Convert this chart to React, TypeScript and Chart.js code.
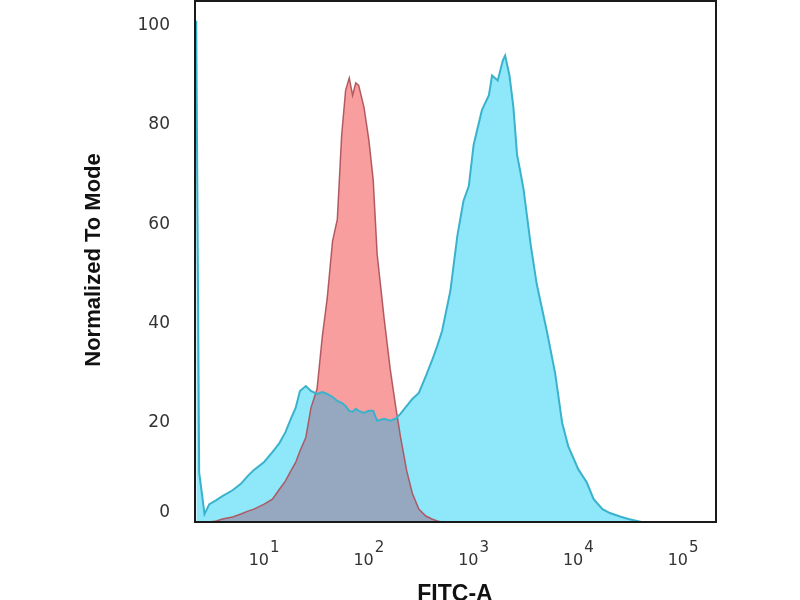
import { useEffect, useRef } from "react"
import { Chart, registerables } from "chart.js"

Chart.register(...registerables)

// FITC-A channel positions (shared by both histograms)
const fitcValues = [
    2.25, 2.4, 2.7, 3, 3.5, 4, 5, 6, 7, 8,
    10, 12, 14, 16, 18, 20, 22, 25, 28, 32,
    36, 40, 45, 50, 55, 60, 65, 70, 75, 80,
    90, 100, 110, 120, 140, 160, 180, 200, 230, 260,
    300, 350, 400, 450, 500, 600, 700, 800, 900, 1000,
    1200, 1400, 1500, 1700, 1900, 2000, 2200, 2400, 2600, 2800,
    3000, 3500, 4000, 5000, 6000, 7000, 8000, 10000, 12000, 14000,
    17000, 20000, 25000, 30000, 40000, 60000, 100000, 206000,
]

// stained sample (cyan)
const stainedCounts = [
    101, 10, 1.6, 3.6, 4.4, 5.2, 6.4, 7.7, 9.3, 10.5,
    12.1, 14.1, 15.9, 18.1, 20.8, 23, 26.4, 27.4, 26.4, 25.8,
    26.2, 25.8, 25.2, 24.4, 24, 23.4, 22.4, 22.2, 22.8, 22.4,
    22, 22.4, 22.4, 20.4, 20.8, 20.4, 20.8, 21.8, 23.4, 24.8,
    26, 29.4, 32.5, 35.5, 38.5, 46.6, 57.7, 64.7, 67.7, 76,
    83, 86, 90, 89, 93, 94, 90, 83.5, 74, 70.5,
    67, 56, 48, 38.5, 30, 20, 15.3, 10.6, 8, 4.6,
    2.6, 1.8, 1.1, 0.6, 0, 0, 0, 0,
]

// isotype control (red)
const isotypeCounts = [
    0, 0, 0, 0, 0.2, 0.6, 1, 1.6, 2.2, 2.6,
    3.6, 4.6, 6.6, 8.3, 10.3, 12, 14.3, 17, 23, 26.8,
    37.5, 45, 56.6, 61, 78, 87, 89.5, 86, 88.5, 88,
    83.5, 77, 69, 54, 41, 30.8, 23.4, 17.3, 10.3, 5.8,
    2.6, 1.2, 0.6, 0.2, 0, 0, 0, 0, 0, 0,
    0, 0, 0, 0, 0, 0, 0, 0, 0, 0,
    0, 0, 0, 0, 0, 0, 0, 0, 0, 0,
    0, 0, 0, 0, 0, 0, 0, 0,
]

const yTicks = [0, 20, 40, 60, 80, 100]
const xDecades = [1, 2, 3, 4, 5]

// frame, tick labels and axis titles, FlowJo style
const axisText = {
    id: "axisText",
    afterDraw(chart: any) {
        const { ctx, chartArea: a, scales } = chart
        ctx.save()
        ctx.strokeStyle = "#1a1a1a"
        ctx.lineWidth = 2
        ctx.strokeRect(a.left, a.top, a.right - a.left, a.bottom - a.top)

        ctx.fillStyle = "#333"
        ctx.font = '17px "DejaVu Sans"'
        ctx.textAlign = "right"
        ctx.textBaseline = "middle"
        yTicks.forEach(v => {
            let py = scales.y.getPixelForValue(v)
            if (v === 0) py -= 9
            ctx.fillText(String(v), a.left - 25, py)
        })

        ctx.textAlign = "left"
        ctx.textBaseline = "alphabetic"
        xDecades.forEach(k => {
            const px = scales.x.getPixelForValue(10 ** k)
            ctx.font = '16px "DejaVu Sans"'
            const wb = ctx.measureText("10").width
            ctx.font = '15px "DejaVu Sans"'
            const we = ctx.measureText(String(k)).width
            const start = px - (wb + 1 + we) / 2
            ctx.font = '16px "DejaVu Sans"'
            ctx.fillText("10", start, 565)
            ctx.font = '15px "DejaVu Sans"'
            ctx.fillText(String(k), start + wb + 1, 552)
        })

        ctx.fillStyle = "#111"
        ctx.font = 'bold 23px "Liberation Sans"'
        ctx.textAlign = "center"
        ctx.fillText("FITC-A", 455, 601)

        ctx.translate(100, 260)
        ctx.rotate(-Math.PI / 2)
        ctx.font = 'bold 22px "Liberation Sans"'
        ctx.fillText("Normalized To Mode", 0, 0)
        ctx.restore()
    }
}

const App = () => {
    const canvasRef = useRef<HTMLCanvasElement>(null)
    useEffect(() => {
        if (!canvasRef.current)
            return
        const chart = new Chart(canvasRef.current, {
            type: "line",
            data: {
                datasets: [
                    {
                        label: "Stained",
                        data: fitcValues.map((x, i) => ({ x, y: stainedCounts[i] })),
                        borderColor: "rgb(58,178,204)",
                        borderWidth: 2,
                        fill: { target: 1, above: "rgb(142,232,250)", below: "rgb(248,158,158)" },
                    },
                    {
                        label: "Isotype",
                        data: fitcValues.map((x, i) => ({ x, y: isotypeCounts[i] })),
                        borderColor: "rgba(170,70,80,0.85)",
                        borderWidth: 1.5,
                        backgroundColor: "rgb(150,168,192)",
                        fill: "origin",
                    },
                ]
            },
            options: {
                animation: false,
                responsive: true,
                maintainAspectRatio: false,
                layout: { padding: { left: 195, top: 1, right: 84, bottom: 78 } },
                elements: { point: { radius: 0 }, line: { tension: 0 } },
                scales: {
                    x: { type: "logarithmic", min: 2.19, max: 206000, display: false },
                    y: { type: "linear", min: 0, max: 105, display: false },
                },
                plugins: {
                    legend: { display: false },
                    tooltip: { enabled: false },
                    filler: { drawTime: "beforeDatasetsDraw" },
                } as any,
            },
            plugins: [axisText],
        })
        return () => {
            chart.destroy()
        }
    }, [])
    return <div style={{ position: "fixed", left: 0, top: 0, width: 800, height: 600, background: "#fff" }}>
        <canvas ref={canvasRef}></canvas>
    </div>
}
export default App
